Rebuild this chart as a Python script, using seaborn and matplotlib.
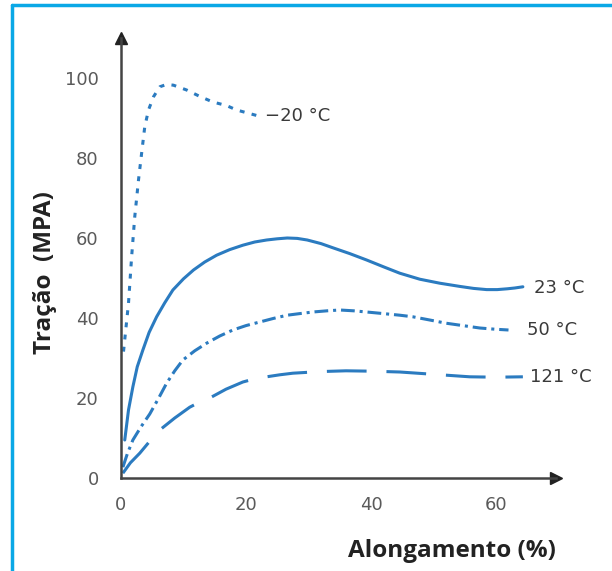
import numpy as np
import pandas as pd
import matplotlib
matplotlib.use("Agg")
import matplotlib.pyplot as plt
from matplotlib.lines import Line2D
import seaborn as sns

# leitura aproximada do gráfico original
x_m20 = [0.4, 1.2, 1.7, 2.2, 2.8, 3.3, 3.8, 4.4, 5.2, 6.2, 7.3, 8.4, 10.5, 12.6, 14.7, 16.9, 18.5, 20.6, 22.0]
y_m20 = [31.6, 43.7, 55.3, 65.3, 74.5, 81.2, 87.8, 92, 95.3, 97.8, 98.4, 98.2, 97, 95.4, 94, 93.1, 92, 91.1, 90.5]

x_23 = [0.6, 1.2, 1.9, 2.6, 3.5, 4.5, 5.7, 7.0, 8.3, 10.0, 11.6, 13.4, 15.3, 17.4, 19.5, 21.4, 23.3, 25.0, 26.6,
        28.2, 29.8, 32.0, 34.0, 36.6, 39.3, 42.0, 44.6, 47.8, 51.0, 54.2, 56.4, 58.5, 60.2, 61.8, 63.0, 64.3]
y_23 = [9.5, 17, 22.8, 27.8, 32, 36.4, 40.3, 43.8, 47, 49.8, 52, 54, 55.7, 57.1, 58.2, 59, 59.5, 59.8, 60,
        59.9, 59.5, 58.6, 57.5, 56.1, 54.5, 52.8, 51.2, 49.7, 48.7, 47.9, 47.4, 47.1, 47.1, 47.3, 47.5, 47.8]

x_50 = [0.3, 1.0, 1.9, 3.2, 4.6, 6.0, 7.3, 8.6, 9.9, 11.8, 13.7, 15.8, 17.9, 20.0, 22.2, 24.4, 26.6, 28.6, 30.7,
        33.0, 35.0, 37.2, 39.3, 42.0, 44.6, 46.7, 49.4, 52.0, 54.7, 57.4, 59.8, 62.0]
y_50 = [2.7, 6.0, 9.5, 12.8, 16, 19.9, 23.7, 26.8, 29.5, 31.8, 33.7, 35.5, 37, 38.1, 39, 39.9, 40.7, 41.1, 41.5,
        41.8, 42, 41.8, 41.5, 41.1, 40.7, 40.3, 39.5, 38.7, 38.1, 37.5, 37.2, 37]

x_121 = [0.3, 1.5, 3.0, 4.6, 6.2, 8.6, 11.0, 12.6, 14.2, 16.8, 19.5, 21.4, 23.3, 25.4, 27.5, 31.8, 36.0,
         40.3, 44.6, 50.2, 55.8, 60.0, 64.3]
y_121 = [1.2, 3.8, 6.2, 9.2, 12, 15, 17.7, 19, 20, 22.2, 24, 24.8, 25.3, 25.8, 26.2, 26.6, 26.8,
         26.7, 26.5, 25.9, 25.3, 25.2, 25.3]

labels = ["\u221220 \u00b0C", "23 \u00b0C", "50 \u00b0C", "121 \u00b0C"]
label_pos = [(23.0, 90.5), (66.0, 47.5), (65.0, 37.0), (65.5, 25.3)]

xticks = [0, 20, 40, 60]
yticks = [0, 20, 40, 60, 80, 100]

sns.set_style("white")
plt.rcParams["font.family"] = ["DejaVu Sans"]

blue = "#2b7bc0"
txt = "#3a3a3a"

fig = plt.figure(figsize=(6.12, 5.71), dpi=100)
ax = fig.add_axes([121 / 612, 1 - 478 / 571, (556 - 121) / 612, (478 - 38) / 571])

series = [
    (x_m20, y_m20, (0, (1.6, 2.4))),
    (x_23, y_23, "-"),
    (x_50, y_50, (0, (4.5, 1.6, 1, 1.6))),
    (x_121, y_121, (0, (13, 6.5))),
]
for xs, ys, ls in series:
    df = pd.DataFrame({"x": xs, "y": ys})
    sns.lineplot(data=df, x="x", y="y", ax=ax, color=blue, lw=2.2,
                 linestyle=ls, sort=False, clip_on=False)

for lab, (lx, ly) in zip(labels, label_pos):
    ax.text(lx, ly, lab, fontsize=13, color=txt, va="center", ha="left")

ax.set_xlim(0, 69.6)
ax.set_ylim(0, 110)
ax.set_xticks(xticks)
ax.set_yticks(yticks)
ax.tick_params(axis="both", direction="out", length=7, width=1.2, colors="#777777",
               labelsize=13, labelcolor="#5a5a5a")
ax.tick_params(axis="y", pad=9)
ax.tick_params(axis="x", pad=6)
for s in ["top", "right"]:
    ax.spines[s].set_visible(False)
for s in ["left", "bottom"]:
    ax.spines[s].set_color("#444444")
    ax.spines[s].set_linewidth(1.8)

# setas dos eixos
ax.plot(1, 0, ">", color="#222222", ms=9, transform=ax.transAxes, clip_on=False)
ax.plot(0, 1, "^", color="#222222", ms=9, transform=ax.transAxes, clip_on=False)

lab_font = dict(fontsize=17.5, fontweight="bold", color="#222222", family="Open Sans")
ax.set_xlabel("Alongamento (%)", **lab_font)
ax.set_ylabel("Tração  (MPA)", **lab_font)
ax.xaxis.set_label_coords((452 - 121) / (556 - 121), -(539 - 478) / (478 - 38))
ax.yaxis.set_label_coords(-(121 - 57) / (556 - 121), (478 - 273) / (478 - 38))

# moldura azul (topo e esquerda)
fig.add_artist(Line2D([12 / 612, 1], [1 - 5 / 571, 1 - 5 / 571], color="#0aa8e6", lw=2.5,
                      transform=fig.transFigure))
fig.add_artist(Line2D([12 / 612, 12 / 612], [0, 1 - 5 / 571], color="#0aa8e6", lw=2.5,
                      transform=fig.transFigure))

fig.savefig("out.png", dpi=100)
